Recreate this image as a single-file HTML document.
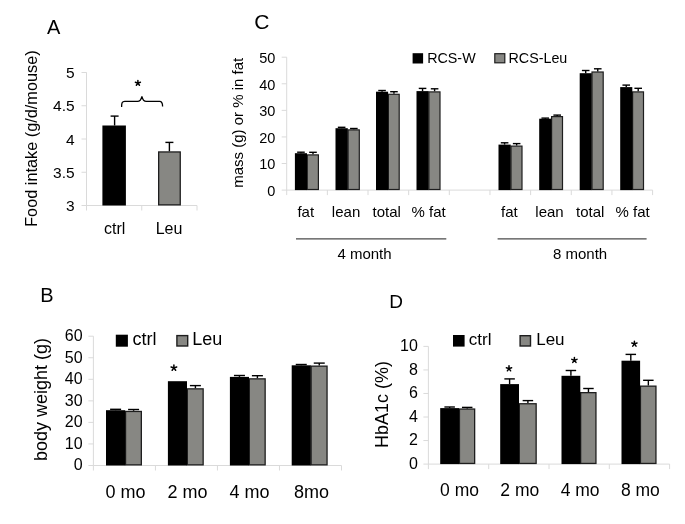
<!DOCTYPE html>
<html><head><meta charset="utf-8"><style>
html,body{margin:0;padding:0;background:#fff;}
svg{display:block;filter:blur(0.35px);}
text{font-family:"Liberation Sans", sans-serif;fill:#000;}
</style></head><body>
<svg width="685" height="524" viewBox="0 0 685 524">
<rect width="685" height="524" fill="#fff"/>
<text x="47.00" y="33.90" font-size="20" text-anchor="start" >A</text>
<text transform="translate(36.90,138.60) rotate(-90)" font-size="16.3" text-anchor="middle">Food intake (g/d/mouse)</text>
<line x1="86.50" y1="72.30" x2="86.50" y2="210.50" stroke="#dadada" stroke-width="1"/>
<line x1="86.50" y1="205.50" x2="197.00" y2="205.50" stroke="#dadada" stroke-width="1"/>
<line x1="141.75" y1="205.50" x2="141.75" y2="210.50" stroke="#dadada" stroke-width="1"/>
<line x1="197.00" y1="205.50" x2="197.00" y2="210.50" stroke="#dadada" stroke-width="1"/>
<line x1="81.50" y1="205.50" x2="86.50" y2="205.50" stroke="#dadada" stroke-width="1"/>
<text x="74.60" y="211.10" font-size="15.5" text-anchor="end" >3</text>
<line x1="81.50" y1="172.25" x2="86.50" y2="172.25" stroke="#dadada" stroke-width="1"/>
<text x="74.60" y="177.85" font-size="15.5" text-anchor="end" >3.5</text>
<line x1="81.50" y1="139.00" x2="86.50" y2="139.00" stroke="#dadada" stroke-width="1"/>
<text x="74.60" y="144.60" font-size="15.5" text-anchor="end" >4</text>
<line x1="81.50" y1="105.75" x2="86.50" y2="105.75" stroke="#dadada" stroke-width="1"/>
<text x="74.60" y="111.35" font-size="15.5" text-anchor="end" >4.5</text>
<line x1="81.50" y1="72.50" x2="86.50" y2="72.50" stroke="#dadada" stroke-width="1"/>
<text x="74.60" y="78.10" font-size="15.5" text-anchor="end" >5</text>
<rect x="102.40" y="125.50" width="23.50" height="80.00" fill="#000"/>
<line x1="114.60" y1="125.50" x2="114.60" y2="116.10" stroke="#000" stroke-width="1.4"/>
<line x1="110.60" y1="116.10" x2="118.60" y2="116.10" stroke="#000" stroke-width="1.4"/>
<rect x="158.65" y="151.95" width="21.60" height="52.90" fill="#878783" stroke="#1e1e1e" stroke-width="1.3"/>
<line x1="169.40" y1="151.30" x2="169.40" y2="142.40" stroke="#000" stroke-width="1.4"/>
<line x1="165.40" y1="142.40" x2="173.40" y2="142.40" stroke="#000" stroke-width="1.4"/>
<text x="114.70" y="234.20" font-size="16" text-anchor="middle" >ctrl</text>
<text x="169.00" y="234.20" font-size="16" text-anchor="middle" >Leu</text>
<path d="M121.6,107 C121.6,103.2 121.9,101.4 124.8,101.4 L137.5,101.4 C140,101.4 141.2,99.5 141.9,96.3 C142.6,99.5 143.8,101.4 146.3,101.4 L159.6,101.4 C162.3,101.4 162.6,103.2 162.6,106.6" fill="none" stroke="#000" stroke-width="1.3"/>
<path d="M137.90,83.10L137.90,80.45M137.90,83.10L140.42,82.28M137.90,83.10L139.46,85.24M137.90,83.10L136.34,85.24M137.90,83.10L135.38,82.28" stroke="#000" stroke-width="1.5" stroke-linecap="round" fill="none"/>
<text x="254.20" y="29.20" font-size="21" text-anchor="start" >C</text>
<text transform="translate(243.00,122.75) rotate(-90)" font-size="15" text-anchor="middle">mass (g) or % in fat</text>
<line x1="286.70" y1="57.20" x2="286.70" y2="195.10" stroke="#dadada" stroke-width="1"/>
<line x1="286.70" y1="190.10" x2="652.60" y2="190.10" stroke="#dadada" stroke-width="1"/>
<line x1="327.36" y1="190.10" x2="327.36" y2="195.10" stroke="#dadada" stroke-width="1"/>
<line x1="368.01" y1="190.10" x2="368.01" y2="195.10" stroke="#dadada" stroke-width="1"/>
<line x1="408.67" y1="190.10" x2="408.67" y2="195.10" stroke="#dadada" stroke-width="1"/>
<line x1="449.32" y1="190.10" x2="449.32" y2="195.10" stroke="#dadada" stroke-width="1"/>
<line x1="489.98" y1="190.10" x2="489.98" y2="195.10" stroke="#dadada" stroke-width="1"/>
<line x1="530.63" y1="190.10" x2="530.63" y2="195.10" stroke="#dadada" stroke-width="1"/>
<line x1="571.29" y1="190.10" x2="571.29" y2="195.10" stroke="#dadada" stroke-width="1"/>
<line x1="611.94" y1="190.10" x2="611.94" y2="195.10" stroke="#dadada" stroke-width="1"/>
<line x1="652.60" y1="190.10" x2="652.60" y2="195.10" stroke="#dadada" stroke-width="1"/>
<line x1="281.70" y1="190.10" x2="286.70" y2="190.10" stroke="#dadada" stroke-width="1"/>
<text x="275.30" y="195.90" font-size="14.5" text-anchor="end" >0</text>
<line x1="281.70" y1="163.52" x2="286.70" y2="163.52" stroke="#dadada" stroke-width="1"/>
<text x="275.30" y="169.32" font-size="14.5" text-anchor="end" >10</text>
<line x1="281.70" y1="136.94" x2="286.70" y2="136.94" stroke="#dadada" stroke-width="1"/>
<text x="275.30" y="142.74" font-size="14.5" text-anchor="end" >20</text>
<line x1="281.70" y1="110.36" x2="286.70" y2="110.36" stroke="#dadada" stroke-width="1"/>
<text x="275.30" y="116.16" font-size="14.5" text-anchor="end" >30</text>
<line x1="281.70" y1="83.78" x2="286.70" y2="83.78" stroke="#dadada" stroke-width="1"/>
<text x="275.30" y="89.58" font-size="14.5" text-anchor="end" >40</text>
<line x1="281.70" y1="57.20" x2="286.70" y2="57.20" stroke="#dadada" stroke-width="1"/>
<text x="275.30" y="63.00" font-size="14.5" text-anchor="end" >50</text>
<rect x="307.30" y="154.90" width="11.10" height="34.60" fill="#878783" stroke="#1e1e1e" stroke-width="1.2"/>
<rect x="294.90" y="153.20" width="12.10" height="36.90" fill="#000"/>
<line x1="300.95" y1="153.20" x2="300.95" y2="152.20" stroke="#000" stroke-width="1.4"/>
<line x1="297.15" y1="152.20" x2="304.75" y2="152.20" stroke="#000" stroke-width="1.4"/>
<line x1="313.00" y1="154.30" x2="313.00" y2="152.30" stroke="#000" stroke-width="1.4"/>
<line x1="309.20" y1="152.30" x2="316.80" y2="152.30" stroke="#000" stroke-width="1.4"/>
<rect x="348.10" y="129.90" width="11.20" height="59.60" fill="#878783" stroke="#1e1e1e" stroke-width="1.2"/>
<rect x="335.50" y="128.20" width="12.30" height="61.90" fill="#000"/>
<line x1="341.65" y1="128.20" x2="341.65" y2="127.30" stroke="#000" stroke-width="1.4"/>
<line x1="337.85" y1="127.30" x2="345.45" y2="127.30" stroke="#000" stroke-width="1.4"/>
<line x1="353.85" y1="129.30" x2="353.85" y2="128.50" stroke="#000" stroke-width="1.4"/>
<line x1="350.05" y1="128.50" x2="357.65" y2="128.50" stroke="#000" stroke-width="1.4"/>
<rect x="388.40" y="94.30" width="10.80" height="95.20" fill="#878783" stroke="#1e1e1e" stroke-width="1.2"/>
<rect x="376.00" y="91.70" width="12.10" height="98.40" fill="#000"/>
<line x1="382.05" y1="91.70" x2="382.05" y2="90.50" stroke="#000" stroke-width="1.4"/>
<line x1="378.25" y1="90.50" x2="385.85" y2="90.50" stroke="#000" stroke-width="1.4"/>
<line x1="393.95" y1="93.70" x2="393.95" y2="91.70" stroke="#000" stroke-width="1.4"/>
<line x1="390.15" y1="91.70" x2="397.75" y2="91.70" stroke="#000" stroke-width="1.4"/>
<rect x="428.90" y="91.90" width="11.10" height="97.60" fill="#878783" stroke="#1e1e1e" stroke-width="1.2"/>
<rect x="416.50" y="91.10" width="12.10" height="99.00" fill="#000"/>
<line x1="422.55" y1="91.10" x2="422.55" y2="88.40" stroke="#000" stroke-width="1.4"/>
<line x1="418.75" y1="88.40" x2="426.35" y2="88.40" stroke="#000" stroke-width="1.4"/>
<line x1="434.60" y1="91.30" x2="434.60" y2="88.80" stroke="#000" stroke-width="1.4"/>
<line x1="430.80" y1="88.80" x2="438.40" y2="88.80" stroke="#000" stroke-width="1.4"/>
<rect x="511.00" y="146.10" width="11.00" height="43.40" fill="#878783" stroke="#1e1e1e" stroke-width="1.2"/>
<rect x="498.50" y="144.60" width="12.20" height="45.50" fill="#000"/>
<line x1="504.60" y1="144.60" x2="504.60" y2="142.80" stroke="#000" stroke-width="1.4"/>
<line x1="500.80" y1="142.80" x2="508.40" y2="142.80" stroke="#000" stroke-width="1.4"/>
<line x1="516.65" y1="145.50" x2="516.65" y2="143.60" stroke="#000" stroke-width="1.4"/>
<line x1="512.85" y1="143.60" x2="520.45" y2="143.60" stroke="#000" stroke-width="1.4"/>
<rect x="551.60" y="116.60" width="10.90" height="72.90" fill="#878783" stroke="#1e1e1e" stroke-width="1.2"/>
<rect x="539.20" y="118.70" width="12.10" height="71.40" fill="#000"/>
<line x1="545.25" y1="118.70" x2="545.25" y2="118.10" stroke="#000" stroke-width="1.4"/>
<line x1="541.45" y1="118.10" x2="549.05" y2="118.10" stroke="#000" stroke-width="1.4"/>
<line x1="557.20" y1="116.00" x2="557.20" y2="115.10" stroke="#000" stroke-width="1.4"/>
<line x1="553.40" y1="115.10" x2="561.00" y2="115.10" stroke="#000" stroke-width="1.4"/>
<rect x="592.00" y="72.00" width="11.20" height="117.50" fill="#878783" stroke="#1e1e1e" stroke-width="1.2"/>
<rect x="579.70" y="73.20" width="12.00" height="116.90" fill="#000"/>
<line x1="585.70" y1="73.20" x2="585.70" y2="70.50" stroke="#000" stroke-width="1.4"/>
<line x1="581.90" y1="70.50" x2="589.50" y2="70.50" stroke="#000" stroke-width="1.4"/>
<line x1="597.75" y1="71.40" x2="597.75" y2="68.80" stroke="#000" stroke-width="1.4"/>
<line x1="593.95" y1="68.80" x2="601.55" y2="68.80" stroke="#000" stroke-width="1.4"/>
<rect x="632.60" y="91.90" width="10.90" height="97.60" fill="#878783" stroke="#1e1e1e" stroke-width="1.2"/>
<rect x="620.20" y="87.10" width="12.10" height="103.00" fill="#000"/>
<line x1="626.25" y1="87.10" x2="626.25" y2="85.10" stroke="#000" stroke-width="1.4"/>
<line x1="622.45" y1="85.10" x2="630.05" y2="85.10" stroke="#000" stroke-width="1.4"/>
<line x1="638.20" y1="91.30" x2="638.20" y2="88.30" stroke="#000" stroke-width="1.4"/>
<line x1="634.40" y1="88.30" x2="642.00" y2="88.30" stroke="#000" stroke-width="1.4"/>
<text x="305.75" y="217.30" font-size="15" text-anchor="middle" >fat</text>
<text x="346.05" y="217.30" font-size="15" text-anchor="middle" >lean</text>
<text x="386.75" y="217.30" font-size="15" text-anchor="middle" >total</text>
<text x="428.70" y="217.30" font-size="15" text-anchor="middle" >% fat</text>
<text x="509.40" y="217.30" font-size="15" text-anchor="middle" >fat</text>
<text x="549.50" y="217.30" font-size="15" text-anchor="middle" >lean</text>
<text x="590.25" y="217.30" font-size="15" text-anchor="middle" >total</text>
<text x="632.55" y="217.30" font-size="15" text-anchor="middle" >% fat</text>
<line x1="296.00" y1="238.80" x2="446.30" y2="238.80" stroke="#4a4a4a" stroke-width="1.3"/>
<line x1="497.60" y1="238.80" x2="646.60" y2="238.80" stroke="#4a4a4a" stroke-width="1.3"/>
<text x="364.50" y="258.80" font-size="15" text-anchor="middle" >4 month</text>
<text x="580.10" y="258.80" font-size="15" text-anchor="middle" >8 month</text>
<rect x="412.60" y="53.20" width="10.50" height="10.30" fill="#000"/>
<text x="427.20" y="63.10" font-size="14.3" text-anchor="start" >RCS-W</text>
<rect x="494.80" y="53.70" width="10.00" height="9.10" fill="#878783" stroke="#1e1e1e" stroke-width="1.2"/>
<text x="508.50" y="62.90" font-size="14.3" text-anchor="start" >RCS-Leu</text>
<text x="40.20" y="301.80" font-size="20" text-anchor="start" >B</text>
<text transform="translate(47.00,399.45) rotate(-90)" font-size="18" text-anchor="middle">body weight (g)</text>
<line x1="93.40" y1="336.20" x2="93.40" y2="470.50" stroke="#dadada" stroke-width="1"/>
<line x1="93.40" y1="465.50" x2="341.50" y2="465.50" stroke="#dadada" stroke-width="1"/>
<line x1="155.43" y1="465.50" x2="155.43" y2="470.50" stroke="#dadada" stroke-width="1"/>
<line x1="217.45" y1="465.50" x2="217.45" y2="470.50" stroke="#dadada" stroke-width="1"/>
<line x1="279.48" y1="465.50" x2="279.48" y2="470.50" stroke="#dadada" stroke-width="1"/>
<line x1="341.50" y1="465.50" x2="341.50" y2="470.50" stroke="#dadada" stroke-width="1"/>
<line x1="88.40" y1="465.50" x2="93.40" y2="465.50" stroke="#dadada" stroke-width="1"/>
<text x="82.60" y="470.30" font-size="16" text-anchor="end" >0</text>
<line x1="88.40" y1="443.95" x2="93.40" y2="443.95" stroke="#dadada" stroke-width="1"/>
<text x="82.60" y="448.75" font-size="16" text-anchor="end" >10</text>
<line x1="88.40" y1="422.40" x2="93.40" y2="422.40" stroke="#dadada" stroke-width="1"/>
<text x="82.60" y="427.20" font-size="16" text-anchor="end" >20</text>
<line x1="88.40" y1="400.85" x2="93.40" y2="400.85" stroke="#dadada" stroke-width="1"/>
<text x="82.60" y="405.65" font-size="16" text-anchor="end" >30</text>
<line x1="88.40" y1="379.30" x2="93.40" y2="379.30" stroke="#dadada" stroke-width="1"/>
<text x="82.60" y="384.10" font-size="16" text-anchor="end" >40</text>
<line x1="88.40" y1="357.75" x2="93.40" y2="357.75" stroke="#dadada" stroke-width="1"/>
<text x="82.60" y="362.55" font-size="16" text-anchor="end" >50</text>
<line x1="88.40" y1="336.20" x2="93.40" y2="336.20" stroke="#dadada" stroke-width="1"/>
<text x="82.60" y="341.00" font-size="16" text-anchor="end" >60</text>
<rect x="125.55" y="411.45" width="15.80" height="53.40" fill="#878783" stroke="#1e1e1e" stroke-width="1.3"/>
<rect x="106.00" y="410.20" width="19.20" height="55.30" fill="#000"/>
<line x1="115.60" y1="410.20" x2="115.60" y2="409.30" stroke="#000" stroke-width="1.4"/>
<line x1="110.10" y1="409.30" x2="121.10" y2="409.30" stroke="#000" stroke-width="1.4"/>
<line x1="133.60" y1="410.80" x2="133.60" y2="409.50" stroke="#000" stroke-width="1.4"/>
<line x1="128.10" y1="409.50" x2="139.10" y2="409.50" stroke="#000" stroke-width="1.4"/>
<rect x="187.35" y="388.85" width="15.80" height="76.00" fill="#878783" stroke="#1e1e1e" stroke-width="1.3"/>
<rect x="167.90" y="381.20" width="19.10" height="84.30" fill="#000"/>
<line x1="195.40" y1="388.20" x2="195.40" y2="385.60" stroke="#000" stroke-width="1.4"/>
<line x1="189.90" y1="385.60" x2="200.90" y2="385.60" stroke="#000" stroke-width="1.4"/>
<rect x="249.35" y="378.85" width="15.80" height="86.00" fill="#878783" stroke="#1e1e1e" stroke-width="1.3"/>
<rect x="229.90" y="376.90" width="19.10" height="88.60" fill="#000"/>
<line x1="239.45" y1="376.90" x2="239.45" y2="375.50" stroke="#000" stroke-width="1.4"/>
<line x1="233.95" y1="375.50" x2="244.95" y2="375.50" stroke="#000" stroke-width="1.4"/>
<line x1="257.40" y1="378.20" x2="257.40" y2="375.70" stroke="#000" stroke-width="1.4"/>
<line x1="251.90" y1="375.70" x2="262.90" y2="375.70" stroke="#000" stroke-width="1.4"/>
<rect x="311.15" y="366.15" width="15.90" height="98.70" fill="#878783" stroke="#1e1e1e" stroke-width="1.3"/>
<rect x="291.70" y="365.30" width="19.10" height="100.20" fill="#000"/>
<line x1="301.25" y1="365.30" x2="301.25" y2="364.50" stroke="#000" stroke-width="1.4"/>
<line x1="295.75" y1="364.50" x2="306.75" y2="364.50" stroke="#000" stroke-width="1.4"/>
<line x1="319.25" y1="365.50" x2="319.25" y2="363.10" stroke="#000" stroke-width="1.4"/>
<line x1="313.75" y1="363.10" x2="324.75" y2="363.10" stroke="#000" stroke-width="1.4"/>
<text x="125.40" y="497.80" font-size="18" text-anchor="middle" >0 mo</text>
<text x="187.40" y="497.80" font-size="18" text-anchor="middle" >2 mo</text>
<text x="249.40" y="497.80" font-size="18" text-anchor="middle" >4 mo</text>
<text x="311.40" y="497.80" font-size="18" text-anchor="middle" >8mo</text>
<path d="M173.90,367.90L173.90,364.95M173.90,367.90L176.71,366.99M173.90,367.90L175.63,370.29M173.90,367.90L172.17,370.29M173.90,367.90L171.09,366.99" stroke="#000" stroke-width="1.5" stroke-linecap="round" fill="none"/>
<rect x="115.80" y="334.70" width="12.10" height="12.00" fill="#000"/>
<text x="132.40" y="344.70" font-size="18" text-anchor="start" >ctrl</text>
<rect x="176.90" y="335.60" width="10.80" height="10.40" fill="#878783" stroke="#1e1e1e" stroke-width="1.4"/>
<text x="192.30" y="344.70" font-size="18" text-anchor="start" >Leu</text>
<text x="389.20" y="308.00" font-size="19" text-anchor="start" >D</text>
<text transform="translate(388.00,404.50) rotate(-90)" font-size="18" text-anchor="middle">HbA1c (%)</text>
<line x1="428.40" y1="346.40" x2="428.40" y2="469.10" stroke="#dadada" stroke-width="1"/>
<line x1="428.40" y1="464.10" x2="669.60" y2="464.10" stroke="#dadada" stroke-width="1"/>
<line x1="488.70" y1="464.10" x2="488.70" y2="469.10" stroke="#dadada" stroke-width="1"/>
<line x1="549.00" y1="464.10" x2="549.00" y2="469.10" stroke="#dadada" stroke-width="1"/>
<line x1="609.30" y1="464.10" x2="609.30" y2="469.10" stroke="#dadada" stroke-width="1"/>
<line x1="669.60" y1="464.10" x2="669.60" y2="469.10" stroke="#dadada" stroke-width="1"/>
<line x1="423.40" y1="464.10" x2="428.40" y2="464.10" stroke="#dadada" stroke-width="1"/>
<text x="417.90" y="468.70" font-size="16" text-anchor="end" >0</text>
<line x1="423.40" y1="440.56" x2="428.40" y2="440.56" stroke="#dadada" stroke-width="1"/>
<text x="417.90" y="445.16" font-size="16" text-anchor="end" >2</text>
<line x1="423.40" y1="417.02" x2="428.40" y2="417.02" stroke="#dadada" stroke-width="1"/>
<text x="417.90" y="421.62" font-size="16" text-anchor="end" >4</text>
<line x1="423.40" y1="393.48" x2="428.40" y2="393.48" stroke="#dadada" stroke-width="1"/>
<text x="417.90" y="398.08" font-size="16" text-anchor="end" >6</text>
<line x1="423.40" y1="369.94" x2="428.40" y2="369.94" stroke="#dadada" stroke-width="1"/>
<text x="417.90" y="374.54" font-size="16" text-anchor="end" >8</text>
<line x1="423.40" y1="346.40" x2="428.40" y2="346.40" stroke="#dadada" stroke-width="1"/>
<text x="417.90" y="351.00" font-size="16" text-anchor="end" >10</text>
<rect x="459.45" y="409.05" width="15.20" height="54.40" fill="#878783" stroke="#1e1e1e" stroke-width="1.3"/>
<rect x="440.20" y="408.10" width="18.90" height="56.00" fill="#000"/>
<line x1="449.65" y1="408.10" x2="449.65" y2="407.00" stroke="#000" stroke-width="1.4"/>
<line x1="444.40" y1="407.00" x2="454.90" y2="407.00" stroke="#000" stroke-width="1.4"/>
<line x1="467.20" y1="408.40" x2="467.20" y2="407.40" stroke="#000" stroke-width="1.4"/>
<line x1="461.95" y1="407.40" x2="472.45" y2="407.40" stroke="#000" stroke-width="1.4"/>
<rect x="519.35" y="403.75" width="16.80" height="59.70" fill="#878783" stroke="#1e1e1e" stroke-width="1.3"/>
<rect x="500.20" y="384.10" width="18.80" height="80.00" fill="#000"/>
<line x1="509.60" y1="384.10" x2="509.60" y2="378.90" stroke="#000" stroke-width="1.4"/>
<line x1="504.35" y1="378.90" x2="514.85" y2="378.90" stroke="#000" stroke-width="1.4"/>
<line x1="527.90" y1="403.10" x2="527.90" y2="400.60" stroke="#000" stroke-width="1.4"/>
<line x1="522.65" y1="400.60" x2="533.15" y2="400.60" stroke="#000" stroke-width="1.4"/>
<rect x="580.65" y="392.65" width="15.30" height="70.80" fill="#878783" stroke="#1e1e1e" stroke-width="1.3"/>
<rect x="561.50" y="375.80" width="18.80" height="88.30" fill="#000"/>
<line x1="570.90" y1="375.80" x2="570.90" y2="370.50" stroke="#000" stroke-width="1.4"/>
<line x1="565.65" y1="370.50" x2="576.15" y2="370.50" stroke="#000" stroke-width="1.4"/>
<line x1="588.45" y1="392.00" x2="588.45" y2="388.50" stroke="#000" stroke-width="1.4"/>
<line x1="583.20" y1="388.50" x2="593.70" y2="388.50" stroke="#000" stroke-width="1.4"/>
<rect x="640.45" y="386.15" width="15.50" height="77.30" fill="#878783" stroke="#1e1e1e" stroke-width="1.3"/>
<rect x="621.50" y="360.70" width="18.60" height="103.40" fill="#000"/>
<line x1="630.80" y1="360.70" x2="630.80" y2="354.40" stroke="#000" stroke-width="1.4"/>
<line x1="625.55" y1="354.40" x2="636.05" y2="354.40" stroke="#000" stroke-width="1.4"/>
<line x1="648.35" y1="385.50" x2="648.35" y2="380.30" stroke="#000" stroke-width="1.4"/>
<line x1="643.10" y1="380.30" x2="653.60" y2="380.30" stroke="#000" stroke-width="1.4"/>
<text x="459.50" y="495.50" font-size="17.5" text-anchor="middle" >0 mo</text>
<text x="519.80" y="495.50" font-size="17.5" text-anchor="middle" >2 mo</text>
<text x="580.10" y="495.50" font-size="17.5" text-anchor="middle" >4 mo</text>
<text x="640.40" y="495.50" font-size="17.5" text-anchor="middle" >8 mo</text>
<path d="M509.00,368.60L509.00,365.85M509.00,368.60L511.62,367.75M509.00,368.60L510.62,370.82M509.00,368.60L507.38,370.82M509.00,368.60L506.38,367.75" stroke="#000" stroke-width="1.5" stroke-linecap="round" fill="none"/>
<path d="M574.40,360.20L574.40,357.45M574.40,360.20L577.02,359.35M574.40,360.20L576.02,362.42M574.40,360.20L572.78,362.42M574.40,360.20L571.78,359.35" stroke="#000" stroke-width="1.5" stroke-linecap="round" fill="none"/>
<path d="M634.40,343.90L634.40,341.15M634.40,343.90L637.02,343.05M634.40,343.90L636.02,346.12M634.40,343.90L632.78,346.12M634.40,343.90L631.78,343.05" stroke="#000" stroke-width="1.5" stroke-linecap="round" fill="none"/>
<rect x="453.00" y="335.00" width="11.60" height="11.60" fill="#000"/>
<text x="468.80" y="344.50" font-size="17" text-anchor="start" >ctrl</text>
<rect x="520.10" y="335.70" width="10.40" height="10.30" fill="#878783" stroke="#1e1e1e" stroke-width="1.4"/>
<text x="536.20" y="344.60" font-size="17" text-anchor="start" >Leu</text>
</svg>
</body></html>
